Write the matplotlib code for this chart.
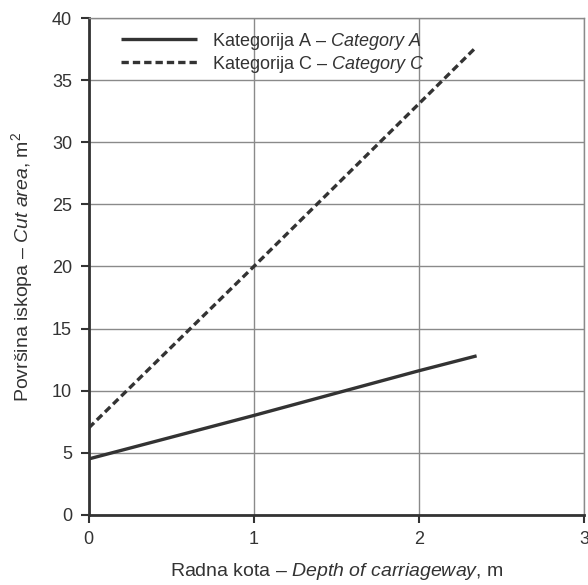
import matplotlib
matplotlib.use("Agg")
import matplotlib.pyplot as plt

# data
depth = [0, 1, 2, 2.35]
cat_a = [4.5, 8.0, 11.6, 12.8]
cat_c = [7.0, 20.0, 33.1, 37.7]
labels = ["Kategorija A – $\\mathit{Category\\ A}$",
          "Kategorija C – $\\mathit{Category\\ C}$"]

plt.rcParams['font.family'] = ['Liberation Sans', 'DejaVu Sans']
plt.rcParams['mathtext.fontset'] = 'custom'
plt.rcParams['mathtext.rm'] = 'Liberation Sans'
plt.rcParams['mathtext.it'] = 'Liberation Sans:italic'

dark = '#333333'
grid = '#8a8a8a'

fig = plt.figure(figsize=(5.88, 5.85), dpi=100)
ax = fig.add_axes([0.151, 0.12, 0.842, 0.849])

ax.plot(depth, cat_a, color=dark, lw=2.4, solid_capstyle='butt', label=labels[0])
ax.plot(depth, cat_c, color=dark, lw=2.4, ls=(0, (2.2, 1.2)), label=labels[1])

ax.set_xlim(0, 3)
ax.set_ylim(0, 40)
ax.set_xticks([0, 1, 2, 3])
ax.set_yticks(range(0, 41, 5))
ax.grid(True, color=grid, lw=1)
ax.set_axisbelow(True)

for s in ['top', 'right']:
    ax.spines[s].set_color(grid)
    ax.spines[s].set_linewidth(1)
for s in ['left', 'bottom']:
    ax.spines[s].set_color(dark)
    ax.spines[s].set_linewidth(2)

ax.tick_params(direction='out', length=6, width=1.5, color=dark,
               labelsize=13, labelcolor=dark, pad=6)

ax.set_xlabel("Radna kota – $\\mathit{Depth\\ of\\ carriageway}$, m",
              fontsize=14, color=dark, labelpad=9)
ax.set_ylabel("Površina iskopa – $\\mathit{Cut\\ area}$, m$^2$",
              fontsize=14, color=dark, labelpad=12)

leg = ax.legend(loc='upper left', frameon=False, fontsize=13,
                handlelength=4.2, bbox_to_anchor=(0.04, 1.0),
                labelspacing=0.1, handletextpad=0.8, borderaxespad=0.3)
for t in leg.get_texts():
    t.set_color(dark)

fig.savefig('out.png', dpi=100, facecolor='white')
